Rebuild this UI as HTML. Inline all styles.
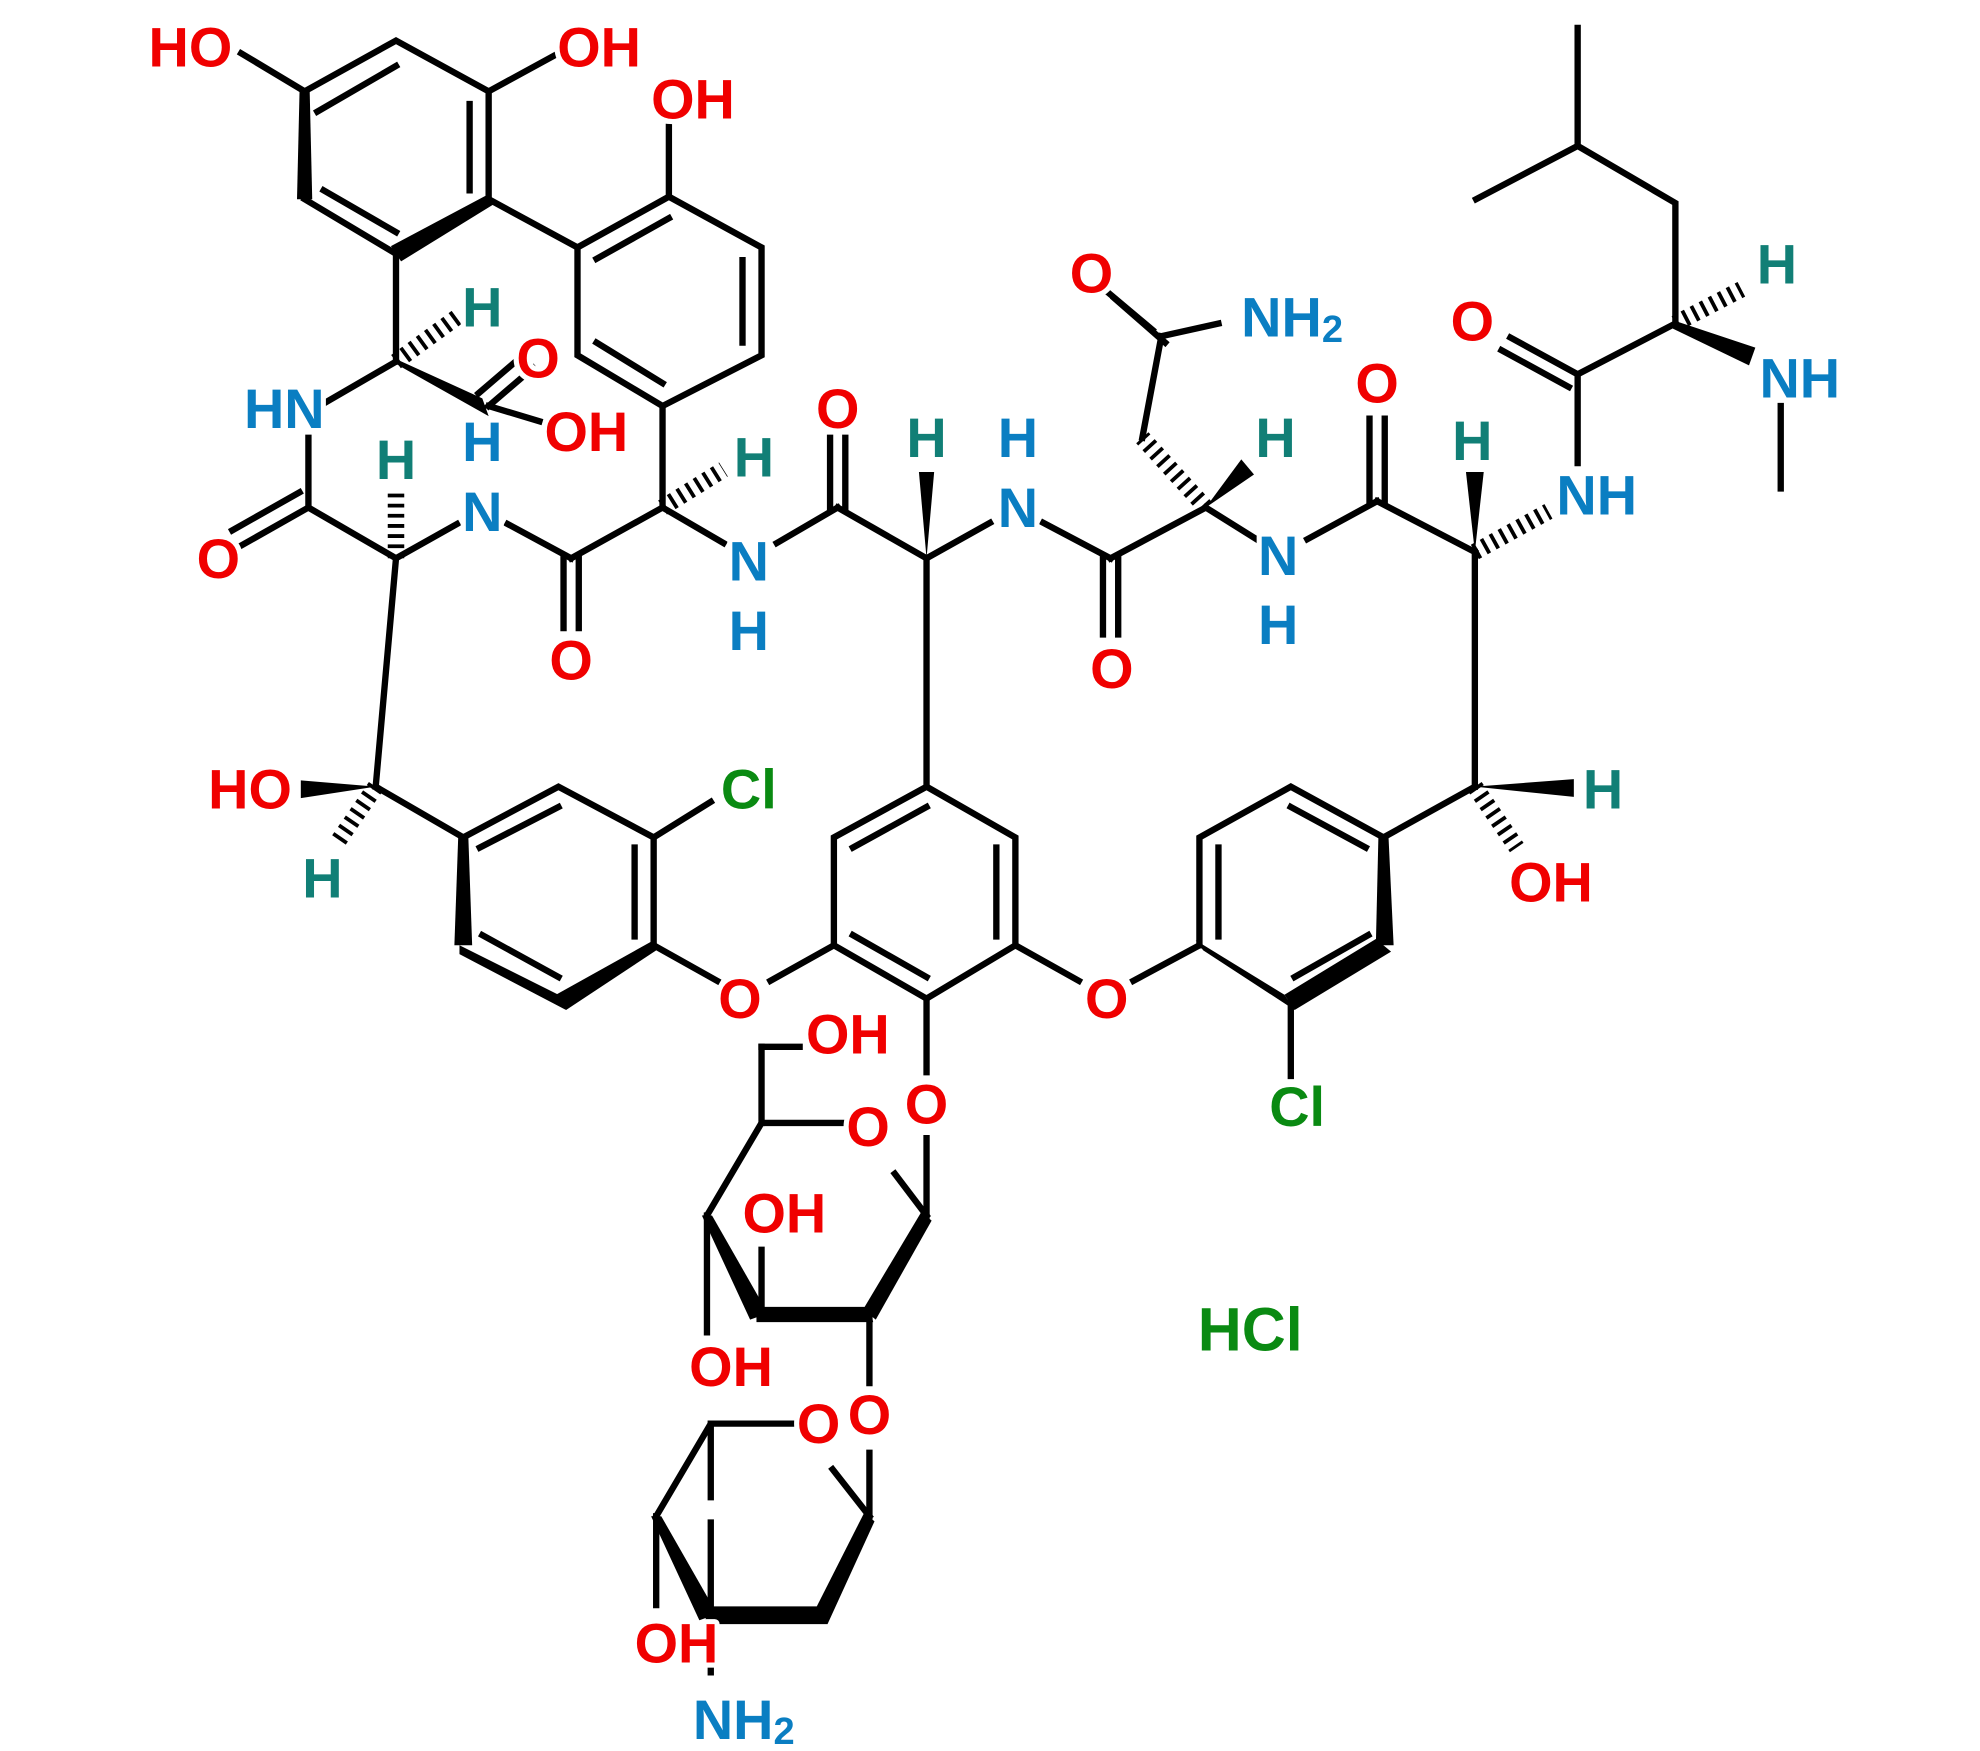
<!DOCTYPE html>
<html><head><meta charset="utf-8"><style>
html,body{margin:0;padding:0;background:#fff;}
svg{display:block}
text{font-family:"Liberation Sans",sans-serif;font-weight:bold;font-size:44px;text-anchor:middle;dominant-baseline:central;stroke:#fff;stroke-width:8px;paint-order:stroke;stroke-linejoin:round}
.r{fill:#f00000}.b{fill:#0a7ec2}.t{fill:#117f76}.g{fill:#0a8a12}
line,polyline{stroke:#000;stroke-width:5;fill:none;stroke-linecap:square}
.h{stroke-width:13;stroke-dasharray:3 5;stroke-linecap:butt}
</style></head><body>
<svg width="1980" height="1751" viewBox="0 0 1560 1380" preserveAspectRatio="none" xmlns="http://www.w3.org/2000/svg">
<g>
<polyline points="240,72 312,32 385,72 385,157"/>
<line x1="250" y1="88" x2="312" y2="52"/><line x1="370" y1="82" x2="370" y2="150"/>
<polygon points="236,72 244,72 246,157 234,157" fill="#000"/>
<line x1="240" y1="157" x2="312" y2="200"/><line x1="255" y1="150" x2="312" y2="183"/>
<polygon points="385,153 389,161 316,206 308,194" fill="#000"/>
<line x1="240" y1="72" x2="190" y2="42"/><line x1="385" y1="72" x2="440" y2="42"/>
<line x1="385" y1="157" x2="455" y2="195"/>
<polyline points="522,320 600,280 600,195 527,155 455,195 455,280 522,320"/>
<line x1="585" y1="270" x2="585" y2="205"/><line x1="527" y1="172" x2="470" y2="204"/><line x1="470" y1="270" x2="522" y2="302"/>
<line x1="527" y1="155" x2="527" y2="100"/>
<line x1="312" y1="200" x2="312" y2="285"/>
<line class="h" x1="312" y1="285" x2="360" y2="250"/>
<polygon points="310,282 314,288 385,328 380,314" fill="#000"/>
<line x1="385" y1="320" x2="420" y2="290"/><line x1="377" y1="310" x2="412" y2="280"/>
<line x1="385" y1="320" x2="425" y2="332"/>
<line x1="312" y1="285" x2="255" y2="318"/>
<line x1="243" y1="345" x2="243" y2="400"/>
<line x1="243" y1="400" x2="190" y2="430"/><line x1="236" y1="388" x2="183" y2="418"/>
<line x1="243" y1="400" x2="312" y2="440"/>
<line class="h" x1="312" y1="440" x2="312" y2="385"/>
<line x1="312" y1="440" x2="360" y2="413"/>
<line x1="400" y1="413" x2="450" y2="440"/>
<line x1="444" y1="440" x2="444" y2="495"/><line x1="456" y1="440" x2="456" y2="495"/>
<line x1="450" y1="440" x2="522" y2="400"/>
<line class="h" x1="522" y1="400" x2="570" y2="370"/>
<line x1="522" y1="400" x2="522" y2="320"/>
<line x1="522" y1="400" x2="570" y2="428"/>
<line x1="612" y1="428" x2="660" y2="400"/>
<line x1="654" y1="400" x2="654" y2="345"/><line x1="666" y1="400" x2="666" y2="345"/>
<line x1="660" y1="400" x2="730" y2="440"/>
<polygon points="730,440 724,372 736,372" fill="#000"/>
<line x1="730" y1="440" x2="780" y2="412"/>
<line x1="822" y1="412" x2="875" y2="440"/>
<line x1="869" y1="440" x2="869" y2="500"/><line x1="881" y1="440" x2="881" y2="500"/>
<line x1="875" y1="440" x2="950" y2="400"/>
<polygon points="950,400 978,362 988,374" fill="#000"/>
<line class="h" x1="950" y1="400" x2="900" y2="345"/>
<line x1="900" y1="345" x2="915" y2="265"/>
<line x1="915" y1="265" x2="960" y2="255"/>
<line x1="918" y1="270" x2="878" y2="235"/><line x1="908" y1="260" x2="870" y2="228"/>
<line x1="950" y1="400" x2="990" y2="425"/>
<line x1="1030" y1="425" x2="1085" y2="395"/>
<line x1="1079" y1="395" x2="1079" y2="330"/><line x1="1091" y1="395" x2="1091" y2="330"/>
<line x1="1085" y1="395" x2="1162" y2="435"/>
<polygon points="1162,435 1155,372 1169,372" fill="#000"/>
<line class="h" x1="1162" y1="435" x2="1220" y2="403"/>
<line x1="1243" y1="365" x2="1243" y2="295"/>
<line x1="1243" y1="295" x2="1190" y2="266"/><line x1="1236" y1="305" x2="1183" y2="276"/>
<line x1="1243" y1="295" x2="1320" y2="255"/>
<line class="h" x1="1320" y1="255" x2="1372" y2="228"/>
<polygon points="1320,253 1318,259 1378,288 1383,274" fill="#000"/>
<line x1="1403" y1="320" x2="1403" y2="385"/>
<polyline points="1320,255 1320,160 1243,115 1243,22"/>
<line x1="1243" y1="115" x2="1163" y2="157"/>
<line x1="1162" y1="435" x2="1162" y2="620"/>
<line x1="312" y1="440" x2="296" y2="620"/>
<polygon points="296,620 237,615 237,629" fill="#000"/>
<line class="h" x1="296" y1="620" x2="265" y2="665"/>
<line x1="296" y1="620" x2="365" y2="660"/>
<polyline points="365,660 440,620 515,660 515,745"/>
<line x1="378" y1="668" x2="440" y2="636"/><line x1="500" y1="668" x2="500" y2="738"/>
<polygon points="361,660 369,660 372,745 358,745" fill="#000"/>
<polygon points="362,745 440,784 446,796 362,752" fill="#000"/>
<polygon points="515,741 517,749 446,796 438,784" fill="#000"/>
<line x1="380" y1="737" x2="440" y2="770"/>
<line x1="515" y1="660" x2="560" y2="632"/>
<line x1="515" y1="745" x2="565" y2="773"/>
<line x1="607" y1="773" x2="657" y2="745"/>
<polyline points="730,620 800,660 800,745 730,787 657,745 657,660 730,620"/>
<line x1="785" y1="668" x2="785" y2="738"/><line x1="730" y1="770" x2="672" y2="737"/><line x1="672" y1="668" x2="730" y2="636"/>
<line x1="730" y1="440" x2="730" y2="620"/>
<line x1="800" y1="745" x2="850" y2="773"/>
<line x1="730" y1="787" x2="730" y2="845"/>
<polyline points="945,745 945,660 1017,620 1090,660"/>
<line x1="960" y1="738" x2="960" y2="668"/><line x1="1017" y1="636" x2="1076" y2="668"/>
<polygon points="1086,660 1094,660 1098,745 1084,745" fill="#000"/>
<polygon points="1084,740 1096,750 1020,796 1012,784" fill="#000"/>
<polygon points="942,741 948,749 1020,796 1012,784" fill="#000"/>
<line x1="1020" y1="770" x2="1078" y2="737"/>
<line x1="945" y1="745" x2="893" y2="773"/>
<line x1="1017" y1="790" x2="1017" y2="848"/>
<line x1="1090" y1="660" x2="1162" y2="620"/>
<polygon points="1162,620 1240,614 1240,628" fill="#000"/>
<line class="h" x1="1162" y1="620" x2="1195" y2="668"/>
<line x1="730" y1="897" x2="730" y2="958"/>
<line x1="730" y1="958" x2="705" y2="925"/>
<polyline points="665,885 600,885 557,958"/>
<line x1="600" y1="885" x2="600" y2="825"/><line x1="600" y1="825" x2="630" y2="825"/>
<polygon points="553,958 561,958 605,1035 591,1040" fill="#000"/>
<polygon points="596,1030 685,1030 688,1042 596,1042" fill="#000"/>
<polygon points="726,955 734,962 690,1040 680,1032" fill="#000"/>
<line x1="600" y1="1035" x2="600" y2="985"/>
<line x1="557" y1="958" x2="557" y2="1050"/>
<line x1="685" y1="1035" x2="685" y2="1090"/>
<line x1="685" y1="1145" x2="685" y2="1195"/>
<line x1="685" y1="1195" x2="656" y2="1158"/>
<polyline points="625,1122 560,1122 517,1195"/>
<line x1="560" y1="1122" x2="560" y2="1180"/>
<line x1="560" y1="1200" x2="560" y2="1290"/>
<polygon points="513,1195 521,1195 565,1272 551,1277" fill="#000"/>
<polygon points="556,1266 645,1266 652,1280 556,1280" fill="#000"/>
<polygon points="681,1192 689,1199 652,1280 640,1273" fill="#000"/>
<line x1="517" y1="1195" x2="517" y2="1265"/>
<line x1="560" y1="1290" x2="560" y2="1318"/>
</g>
<text x="150" y="37" class="r">HO</text>
<text x="472" y="37" class="r">OH</text>
<text x="546" y="78" class="r">OH</text>
<text x="380" y="242" class="t">H</text>
<text x="424" y="282" class="r">O</text>
<text x="462" y="340" class="r">OH</text>
<text x="380" y="348" class="b">H</text>
<text x="224" y="322" class="b">HN</text>
<text x="172" y="440" class="r">O</text>
<text x="312" y="362" class="t">H</text>
<text x="380" y="403" class="b">N</text>
<text x="450" y="520" class="r">O</text>
<text x="594" y="360" class="t">H</text>
<text x="590" y="442" class="b">N</text>
<text x="590" y="497" class="b">H</text>
<text x="660" y="322" class="r">O</text>
<text x="730" y="345" class="t">H</text>
<text x="802" y="345" class="b">H</text>
<text x="802" y="400" class="b">N</text>
<text x="876" y="527" class="r">O</text>
<text x="1005" y="345" class="t">H</text>
<text x="1007" y="438" class="b">N</text>
<text x="1007" y="492" class="b">H</text>
<text x="860" y="215" class="r">O</text>
<text x="1018" y="250" class="b">NH<tspan dy="10" style="font-size:30px">2</tspan></text>
<text x="1085" y="302" class="r">O</text>
<text x="1160" y="347" class="t">H</text>
<text x="1258" y="390" class="b">NH</text>
<text x="1160" y="253" class="r">O</text>
<text x="1400" y="208" class="t">H</text>
<text x="1418" y="298" class="b">NH</text>
<text x="197" y="622" class="r">HO</text>
<text x="254" y="692" class="t">H</text>
<text x="590" y="622" class="g">Cl</text>
<text x="583" y="787" class="r">O</text>
<text x="872" y="787" class="r">O</text>
<text x="1263" y="622" class="t">H</text>
<text x="1222" y="695" class="r">OH</text>
<text x="1022" y="872" class="g">Cl</text>
<text x="668" y="815" class="r">OH</text>
<text x="730" y="870" class="r">O</text>
<text x="684" y="888" class="r">O</text>
<text x="618" y="956" class="r">OH</text>
<text x="576" y="1077" class="r">OH</text>
<text x="685" y="1115" class="r">O</text>
<text x="645" y="1122" class="r">O</text>
<text x="533" y="1295" class="r">OH</text>
<text x="586" y="1355" class="b">NH<tspan dy="10" style="font-size:30px">2</tspan></text>
<text x="985" y="1048" class="g" style="font-size:48px">HCl</text>
</svg>
</body></html>
